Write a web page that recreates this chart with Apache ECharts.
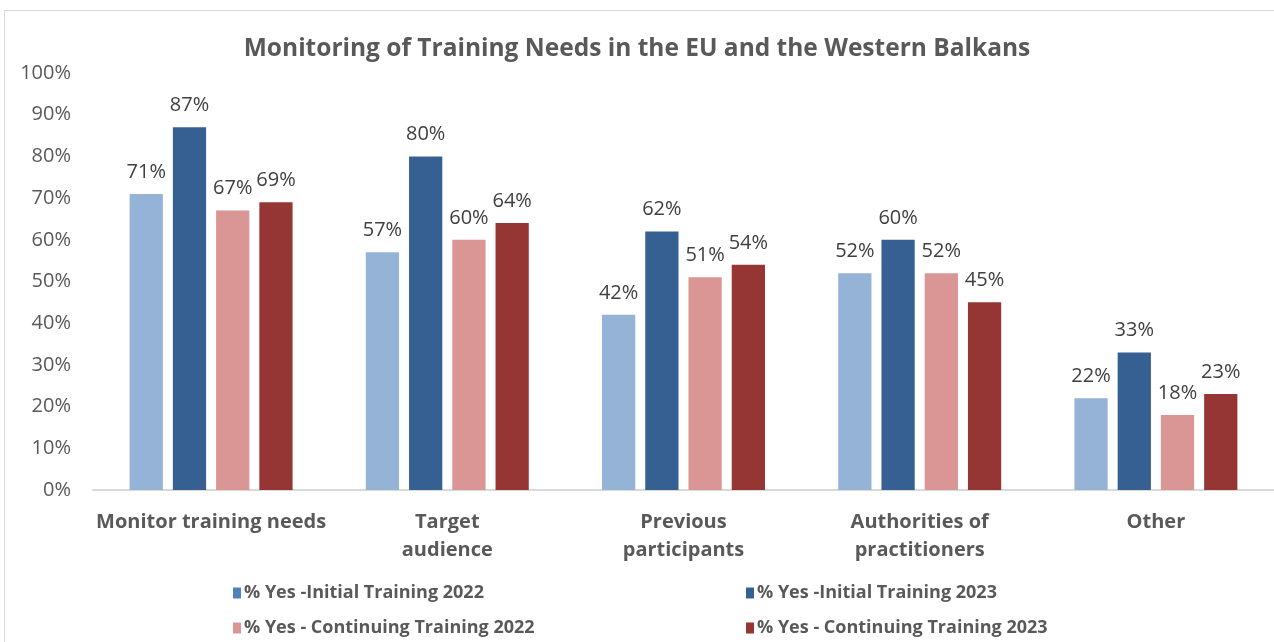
<!DOCTYPE html>
<html>
<head>
<meta charset="utf-8">
<script src="https://cdn.jsdelivr.net/npm/echarts@6/dist/echarts.min.js"></script>
<style>
  html, body { margin: 0; padding: 0; background: #fff; }
  #frame { position: absolute; left: 4px; top: 10px; width: 1280px; height: 640px; border: 1.5px solid #D9D9D9; box-sizing: border-box; }
  #chart { position: absolute; left: 0; top: 0; width: 1274px; height: 642px; }
</style>
</head>
<body>
<div id="frame"></div>
<div id="chart"></div>
<script>
// Survey categories and share of "Yes" answers (percent)
const categories = ['Monitor training needs', 'Target\naudience', 'Previous\nparticipants', 'Authorities of\npractitioners', 'Other'];
const initial2022 = [71, 57, 42, 52, 22];
const initial2023 = [87, 80, 62, 60, 33];
const continuing2022 = [67, 60, 51, 52, 18];
const continuing2023 = [69, 64, 54, 45, 23];
const seriesNames = [
  '% Yes -Initial Training 2022',
  '% Yes -Initial Training 2023',
  '% Yes - Continuing Training 2022',
  '% Yes - Continuing Training 2023'
];
const yTicks = [0, 10, 20, 30, 40, 50, 60, 70, 80, 90, 100];

const font = '"Open Sans", Lato, sans-serif';
const barColors = ['#95B3D7', '#366092', '#DA9694', '#963634'];
const swatchColors = ['#4F81BD', '#366092', '#DA9694', '#963634'];
const seriesData = [initial2022, initial2023, continuing2022, continuing2023];

const chart = echarts.init(document.getElementById('chart'), null, { renderer: 'canvas' });

function legendBlock(left, idxs) {
  return {
    left: left, top: 579, orient: 'vertical', itemGap: 17,
    itemWidth: 8, itemHeight: 11, icon: 'rect', selectedMode: false,
    textStyle: { fontFamily: font, fontSize: 18, fontWeight: 'bold', color: '#595959', padding: [0, 0, 0, -2] },
    data: idxs.map(i => ({ name: seriesNames[i], itemStyle: { color: swatchColors[i] } }))
  };
}

chart.setOption({
  animation: false,
  title: {
    text: 'Monitoring of Training Needs in the EU and the Western Balkans',
    left: 'center', top: 32,
    textStyle: { fontFamily: font, fontSize: 24.5, fontWeight: 'bold', color: '#595959' }
  },
  legend: [legendBlock(228, [0, 2]), legendBlock(741, [1, 3])],
  grid: { left: 93, right: 0, top: 73, bottom: 152 },
  xAxis: {
    type: 'category', data: categories,
    axisLine: { lineStyle: { color: '#D9D9D9', width: 2 } },
    axisTick: { show: false },
    axisLabel: { fontFamily: font, fontSize: 20, fontWeight: 'bold', color: '#595959', lineHeight: 28, margin: 18, interval: 0 }
  },
  yAxis: {
    type: 'value', min: yTicks[0], max: yTicks[yTicks.length - 1], interval: 10,
    splitLine: { show: false },
    axisLine: { show: false }, axisTick: { show: false },
    axisLabel: { fontFamily: font, fontSize: 20, color: '#595959', margin: 22, formatter: v => v + '%' }
  },
  series: seriesData.map((d, i) => ({
    name: seriesNames[i], type: 'bar', data: d,
    barGap: '30%', barCategoryGap: '31%',
    itemStyle: { color: barColors[i] },
    label: {
      show: true, position: 'top', distance: 12,
      fontFamily: font, fontSize: 20, color: '#404040',
      formatter: p => p.value + '%'
    }
  }))
});
</script>
</body>
</html>
